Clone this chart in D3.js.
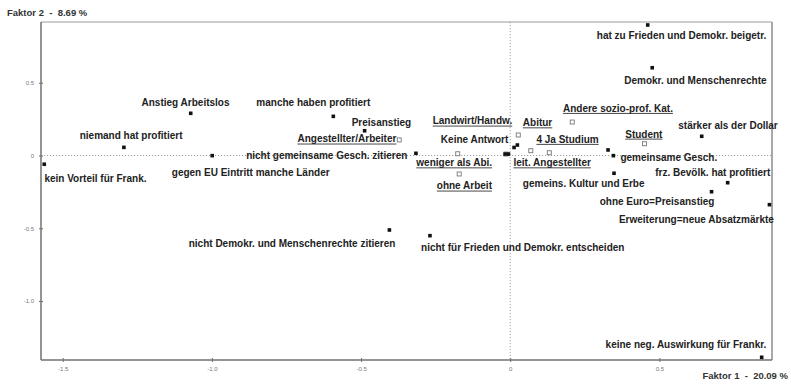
<!DOCTYPE html>
<html><head><meta charset="utf-8">
<script src="https://cdn.jsdelivr.net/npm/d3@7"></script>
<style>
html,body{margin:0;padding:0;background:#fff;}
svg{display:block;font-family:"Liberation Sans",Arial,sans-serif;}
</style></head>
<body>
<svg id="chart" width="791" height="385"></svg>
<script>
// ---- data (factor coordinates) ----
const answerLabels = ["hat zu Frieden und Demokr. beigetr.","Demokr. und Menschenrechte","Anstieg Arbeitslos","manche haben profitiert","Preisanstieg","niemand hat profitiert","kein Vorteil für Frank.","gegen EU Eintritt manche Länder","nicht gemeinsame Gesch. zitieren","nicht Demokr. und Menschenrechte zitieren","nicht für Frieden und Demokr. entscheiden","keine neg. Auswirkung für Frankr.","stärker als der Dollar","gemeinsame Gesch.","gemeins. Kultur und Erbe","frz. Bevölk. hat profitiert","ohne Euro=Preisanstieg","Erweiterung=neue Absatzmärkte","Keine Antwort","","","",""];
const answerF1 = [0.461,0.476,-1.071,-0.593,-0.488,-1.295,-1.562,-0.999,-0.316,-0.405,-0.269,0.843,0.642,0.346,0.348,0.729,0.675,0.869,0.013,0.328,-0.017,-0.006,0.024];
const answerF2 = [0.897,0.603,0.290,0.269,0.170,0.056,-0.060,-0.001,0.015,-0.512,-0.551,-1.387,0.132,-0.001,-0.122,-0.187,-0.249,-0.338,0.055,0.038,0.010,0.010,0.072];

const groupLabels = ["Angestellter/Arbeiter","Landwirt/Handw.","Abitur","Andere sozio-prof. Kat.","4 Ja Studium","leit. Angestellter","Student","weniger als Abi.","ohne Arbeit"];
const groupF1 = [-0.372,0.027,-0.014,0.208,0.069,0.131,0.450,-0.176,-0.171];
const groupF2 = [0.107,0.141,0.010,0.230,0.033,0.019,0.081,0.012,-0.127];

const xTicks = [-1.5,-1.0,-0.5,0,0.5];
const yTicks = [0.5,0,-0.5,-1.0];
const xTitle = "Faktor 1  -  20.09 %";
const yTitle = "Faktor 2  -  8.69 %";

// ---- layout (label offsets in px, relative to the point) ----
const answerLabelOffset = [[33.8,14.2],[43.2,15.8],[-5.2,-7.8],[-20,-10.8],[16.8,-4.9],[7.2,-8.1],[51.2,18.2],[38.5,20.1],[-89.2,5.5],[-97.3,16.8],[92.8,15.1],[-75.7,-9.5],[26.3,-6.8],[55.4,5.5],[-30.3,14.2],[-14.9,-6.5],[-54.5,12.8],[-73,18.1],[-39.5,-4.7],[0,0],[0,0],[0,0],[0,0]];
const groupLabelOffset = [[-52.3,2.5],[-45.8,-10.5],[31.5,-27.8],[45.7,-10.2],[36.8,-7.9],[2.9,13.5],[-0.6,-6.2],[-3.5,12.5],[5.2,15.5]];

const svg = d3.select("#chart");
const L = 41, T = 22, R = 772, B = 360;
const x = d3.scaleLinear().domain([-1.5729, 0.8776]).range([L, R]);
const y = d3.scaleLinear().domain([-1.4055, 0.9175]).range([B, T]);

// frame top/right
svg.append("line").attr("x1",L).attr("x2",R).attr("y1",T).attr("y2",T).attr("stroke","#9a9a9a").attr("stroke-width",1);
svg.append("line").attr("x1",R).attr("x2",R).attr("y1",T).attr("y2",B).attr("stroke","#a8a8a8").attr("stroke-width",2);

// zero lines
svg.append("line").attr("x1",L).attr("x2",R).attr("y1",y(0)).attr("y2",y(0)).attr("stroke","#888").attr("stroke-width",0.8).attr("stroke-dasharray","1.2,1.8");
svg.append("line").attr("x1",x(0)).attr("x2",x(0)).attr("y1",T).attr("y2",B).attr("stroke","#888").attr("stroke-width",0.8).attr("stroke-dasharray","1.2,1.8");

const fmt = d => d === 0 ? "0" : d.toFixed(1);

// axes
const gx = svg.append("g").attr("transform",`translate(0,${B})`)
  .call(d3.axisBottom(x).tickValues(xTicks).tickFormat(fmt).tickSizeOuter(0).tickSizeInner(3).tickPadding(4));
const gy = svg.append("g").attr("transform",`translate(${L},0)`)
  .call(d3.axisLeft(y).tickValues(yTicks).tickFormat(fmt).tickSizeOuter(0).tickSizeInner(3).tickPadding(4));
[gx, gy].forEach(g => {
  g.select(".domain").attr("stroke","#707070").attr("stroke-width",1.5);
  g.selectAll(".tick line").attr("stroke","#707070");
  g.selectAll(".tick text").attr("fill","#777").attr("font-size","6px").attr("font-family","Liberation Sans, Arial, sans-serif");
});
gx.select(".domain").attr("d",`M${L},0H${R}`);
gy.select(".domain").attr("d",`M0,${T}V${B}`);
gx.selectAll(".tick line").attr("y1",-2).attr("y2",2);
gy.selectAll(".tick line").attr("x1",-2).attr("x2",2);

// axis titles
svg.append("text").attr("x",7).attr("y",16).attr("font-size","9.5px").attr("font-weight","bold").attr("fill","#333").attr("xml:space","preserve").text(yTitle);
svg.append("text").attr("x",788).attr("y",379).attr("text-anchor","end").attr("font-size","9.5px").attr("font-weight","bold").attr("fill","#333").attr("xml:space","preserve").text(xTitle);

// group points (open squares)
const groups = groupLabels.map((l,i)=>({label:l, f1:groupF1[i], f2:groupF2[i], off:groupLabelOffset[i]}));
const answers = answerLabels.map((l,i)=>({label:l, f1:answerF1[i], f2:answerF2[i], off:answerLabelOffset[i]}));

svg.append("g").selectAll("rect").data(groups).join("rect")
  .attr("x",d=>x(d.f1)-2).attr("y",d=>y(d.f2)-2).attr("width",4).attr("height",4)
  .attr("fill","#fff").attr("stroke","#777").attr("stroke-width",0.9);

svg.append("g").selectAll("rect").data(answers).join("rect")
  .attr("x",d=>x(d.f1)-1.8).attr("y",d=>y(d.f2)-1.8).attr("width",3.6).attr("height",3.6)
  .attr("fill","#111");

// labels
const lblStyle = sel => sel.attr("font-size","10px").attr("font-weight","bold").attr("fill","#222").attr("text-anchor","middle");
svg.append("g").selectAll("text").data(answers.filter(d=>d.label)).join("text")
  .attr("x",d=>x(d.f1)+d.off[0]).attr("y",d=>y(d.f2)+d.off[1]).call(lblStyle).text(d=>d.label);

const gl = svg.append("g");
gl.selectAll("text").data(groups).join("text")
  .attr("x",d=>x(d.f1)+d.off[0]).attr("y",d=>y(d.f2)+d.off[1]).call(lblStyle).text(d=>d.label)
  .each(function(d){
    const w = this.getComputedTextLength();
    const cx = x(d.f1)+d.off[0], by = y(d.f2)+d.off[1]+1.6;
    gl.append("line").attr("x1",cx-w/2).attr("x2",cx+w/2).attr("y1",by).attr("y2",by).attr("stroke","#333").attr("stroke-width",0.9);
  });
</script>
</body></html>
